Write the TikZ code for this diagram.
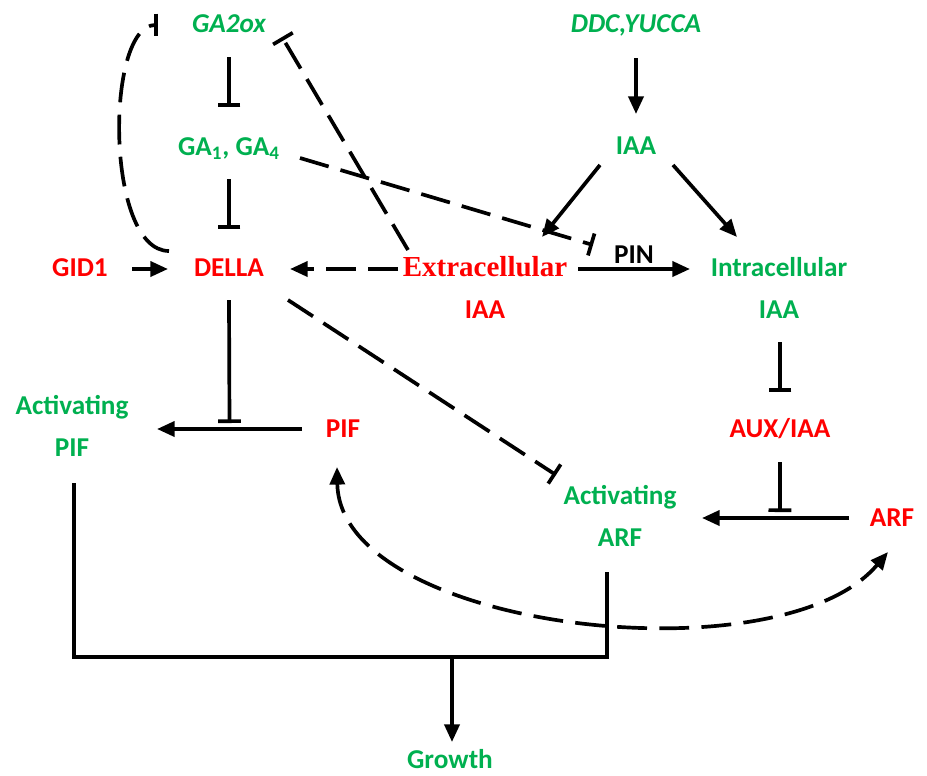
\documentclass[tikz,border=0pt]{standalone}
\usepackage{fontspec}
\setmainfont{Carlito}
\newfontfamily\serifbold{Liberation Serif}
\usetikzlibrary{arrows.meta, calc}

\definecolor{grn}{RGB}{0,176,80}
\definecolor{rd}{RGB}{255,0,0}

\begin{document}
\begin{tikzpicture}[x=0.02cm, y=-0.02cm]
\tikzstyle{lbl}=[inner sep=0pt, text height=10pt, text depth=0pt, font=\fontsize{15.5}{18}\selectfont\bfseries]
\tikzstyle{grnlbl}=[lbl, text=grn]
\tikzstyle{redlbl}=[lbl, text=rd]
\tikzstyle{act}=[line width=2.1pt, -{Triangle[length=10pt,width=8.5pt]}]
\tikzstyle{both}=[line width=2.1pt, {Triangle[length=10pt,width=8.5pt]}-{Triangle[length=10pt,width=8.5pt]}]
\tikzstyle{inh}=[line width=2.1pt, -{Bar[width=13pt]}]
\tikzstyle{dashline}=[dash pattern=on 17pt off 7pt]
\useasboundingbox (0,0) rectangle (927,775);

\node (ga2ox) [grnlbl] at (229,24) {\itshape GA2ox};
\node (ddc) [grnlbl] at (636,24) {\itshape DDC,YUCCA};
\node (ga) [grnlbl] at (229,147) {GA\textsubscript{1}, GA\textsubscript{4}};
\node (iaa) [grnlbl] at (636,146) {IAA};
\node (gid) [redlbl] at (80,268) {GID1};
\node (della) [redlbl] at (229,268) {DELLA};
\node (extra) [redlbl] at (485,268) {\serifbold\fontsize{16.5}{18}\selectfont Extracellular};
\node (extraiaa) [redlbl] at (485,310) {IAA};
\node (intra) [grnlbl] at (779,268) {Intracellular};
\node (intraiaa) [grnlbl] at (779,310) {IAA};
\node (aux) [redlbl] at (780,429) {AUX/IAA};
\node (pif) [redlbl] at (343,429) {PIF};
\node (pifact) [grnlbl] at (72,406) {Activating};
\node (pifactb) [grnlbl] at (72,448) {PIF};
\node (arf) [redlbl] at (892,518) {ARF};
\node (arfact) [grnlbl] at (620,496) {Activating};
\node (arfactb) [grnlbl] at (620,538) {ARF};
\node (growth) [grnlbl] at (450,760) {Growth};

% gibberellin side
\draw[inh] ($(ga2ox)+(0,33)$) -- ($(ga)+(0,-40)$);
\draw[inh] ($(ga)+(0,32)$) -- ($(della)+(0,-39)$);
\draw[act] ($(gid)+(52,1)$) -- ($(della)+(-61,1)$);
\draw[act, dashline] ($(extra)+(-87,1)$) -- ($(della)+(61,1)$);
\draw[inh, dashline] ($(extra)+(-77,-18)$) -- ($(ga2ox)+(53,13)$);
\draw[inh, dashline] ($(della)+(-60,-17)$) .. controls ($(della)+(-124,-17)$) and ($(ga2ox)+(-124,1)$) .. ($(ga2ox)+(-71,1)$);
\draw[inh, dashline] ($(ga)+(71,11)$) -- ($(extra)+(108,-23)$);

% auxin side
\draw[act] ($(ddc)+(0,34)$) -- ($(iaa)+(0,-32)$);
\draw[act] ($(iaa)+(-36,19)$) -- ($(extra)+(57,-31)$);
\draw[act] ($(iaa)+(37,19)$) -- ($(intra)+(-42,-31)$);
\draw[act] ($(extra)+(93,1)$) -- node[lbl, above=2pt, text=black] (pin) {PIN} ($(intra)+(-89,1)$);
\draw[inh] ($(intraiaa)+(1,32)$) -- ($(aux)+(0,-37)$);
\draw[act] ($(arf)+(-43,0)$) -- coordinate[pos=0.47] (arfhit) ($(arfact)+(82,22)$);
\draw[inh] ($(aux)+(0,33)$) -- ($(arfhit)+(0,-6)$);

% PIF
\draw[act] ($(pif)+(-41,0)$) -- coordinate (pifhit) ($(pifact)+(85,23)$);
\draw[inh] ($(della)+(0,32)$) -- ($(pifhit)+(0,-6)$);
\draw[inh, dashline] ($(della)+(59,32)$) -- ($(arfact)+(-64,-21)$);
\draw[both, dashline] ($(pif)+(-6,38)$) .. controls ($(pif)+(-3,201)$) and ($(arf)+(-112,162)$) .. ($(arf)+(-4,34)$);

% growth
\coordinate (join) at ($(growth)+(2,-103)$);
\draw[line width=2.1pt] ($(pifactb)+(2,35)$) |- (join) -| ($(arfactb)+(-13,34)$);
\draw[act] (join) -- ($(growth)+(2,-18)$);

\end{tikzpicture}
\end{document}
